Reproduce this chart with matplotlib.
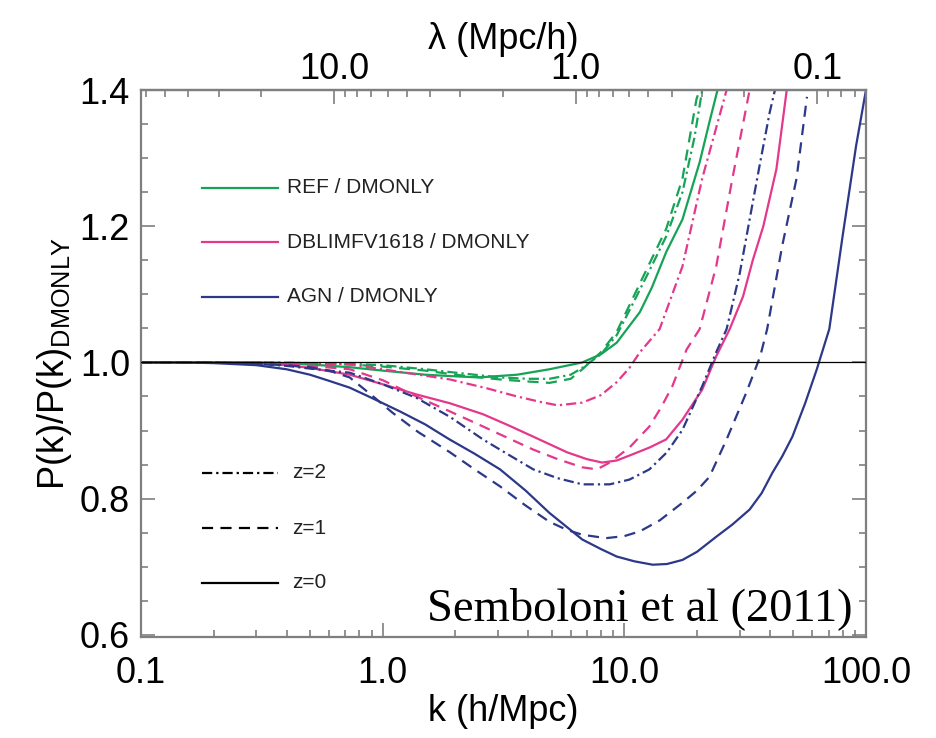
import numpy as np
import matplotlib
matplotlib.use("Agg")
import matplotlib.pyplot as plt
from matplotlib.ticker import FixedLocator, LogLocator, NullFormatter, FixedFormatter, MultipleLocator

plt.rcParams['font.family'] = ['Liberation Sans', 'DejaVu Sans']

# ---- data ----
agn_z0_k = [0.1, 0.15, 0.2, 0.3, 0.4, 0.5, 0.6, 0.73, 0.9, 1.18, 1.5, 1.89, 2.4, 3.06, 3.9, 4.9, 5.8, 6.7, 8.0,
            9.3, 11, 13.1, 15, 17.4, 20, 24, 28, 33, 37, 41, 45, 49.6, 56, 62.6, 70.5, 80, 91, 100]
agn_z0_v = [1.0, 1.0, 0.999, 0.996, 0.99, 0.982, 0.973, 0.963, 0.948, 0.928, 0.909, 0.887, 0.866, 0.843, 0.812,
            0.779, 0.758, 0.740, 0.726, 0.715, 0.708, 0.703, 0.704, 0.710, 0.722, 0.744, 0.762, 0.784, 0.808,
            0.838, 0.862, 0.891, 0.94, 0.99, 1.049, 1.185, 1.318, 1.40]

agn_z1_k = [0.1, 0.2, 0.3, 0.4, 0.5, 0.6, 0.73, 0.9, 1.1, 1.4, 1.9, 2.4, 3.06, 3.9, 4.9, 5.8, 6.7, 8.4, 10,
            11.6, 14, 17.4, 20, 22.5, 26.5, 32, 36.5, 39, 45, 51.6, 57]
agn_z1_v = [1.0, 1.0, 0.998, 0.996, 0.993, 0.988, 0.978, 0.952, 0.926, 0.898, 0.868, 0.843, 0.818, 0.79, 0.766,
            0.754, 0.747, 0.742, 0.745, 0.752, 0.768, 0.794, 0.812, 0.832, 0.887, 0.956, 1.009, 1.049, 1.171,
            1.27, 1.39]

agn_z2_k = [0.1, 0.2, 0.3, 0.4, 0.5, 0.6, 0.73, 1.0, 1.38, 1.9, 2.6, 3.3, 4.2, 5.3, 6.7, 8.7, 10.5, 12.7, 15,
            17.4, 21, 24, 26.5, 30, 33, 36.5, 40, 42]
agn_z2_v = [1.0, 1.0, 0.998, 0.995, 0.991, 0.988, 0.985, 0.968, 0.948, 0.92, 0.887, 0.865, 0.843, 0.83, 0.821,
            0.821, 0.828, 0.843, 0.868, 0.901, 0.965, 1.015, 1.049, 1.13, 1.21, 1.294, 1.368, 1.40]

dbl_z0_k = [0.1, 0.2, 0.3, 0.4, 0.5, 0.73, 1.0, 1.38, 1.9, 2.6, 3.3, 4.2, 5.8, 7, 8.1, 9.3, 10.8, 12.7, 14.9,
            17.4, 21, 24, 27.3, 31, 34, 37.6, 42.6, 47]
dbl_z0_v = [1.0, 1.0, 0.999, 0.996, 0.992, 0.982, 0.968, 0.953, 0.94, 0.924, 0.908, 0.891, 0.868, 0.858, 0.853,
            0.856, 0.865, 0.875, 0.887, 0.916, 0.96, 1.009, 1.049, 1.097, 1.15, 1.2, 1.284, 1.40]

dbl_z1_k = [0.1, 0.2, 0.3, 0.4, 0.5, 0.73, 1.0, 1.38, 1.9, 2.6, 3.3, 4.2, 5.3, 6.7, 7.7, 8.7, 10.5, 12.7, 14.2,
            15.8, 18.1, 20.5, 24, 28, 33]
dbl_z1_v = [1.0, 1.0, 0.999, 0.997, 0.995, 0.99, 0.974, 0.95, 0.928, 0.906, 0.889, 0.872, 0.858, 0.846, 0.843,
            0.853, 0.875, 0.906, 0.934, 0.965, 1.019, 1.049, 1.141, 1.27, 1.40]

dbl_z2_k = [0.1, 0.3, 0.5, 0.73, 1.0, 1.9, 2.7, 3.6, 4.5, 5.3, 6.7, 8.0, 9.3, 10.5, 11.6, 14, 17.4, 21, 26.5]
dbl_z2_v = [1.0, 1.0, 0.999, 0.997, 0.99, 0.975, 0.962, 0.95, 0.942, 0.937, 0.941, 0.952, 0.971, 0.992, 1.015,
            1.049, 1.141, 1.27, 1.40]

ref_z0_k = [0.1, 0.3, 0.5, 0.73, 1.0, 1.5, 1.9, 2.5, 3.6, 4.9, 6.7, 8.0, 9.3, 11.6, 13, 14.9, 17.4, 20.5, 22.5, 24.3]
ref_z0_v = [1.0, 1.0, 0.997, 0.993, 0.988, 0.982, 0.98, 0.978, 0.982, 0.99, 1.0, 1.012, 1.029, 1.074, 1.11, 1.162,
            1.21, 1.294, 1.353, 1.40]

ref_z1_k = [0.1, 0.3, 0.5, 0.73, 1.0, 1.5, 2.0, 3.06, 4.0, 4.9, 6.0, 6.7, 8.0, 9.3, 10.8, 12.5, 14.9, 17.4, 19.9, 20.5]
ref_z1_v = [1.0, 1.0, 0.999, 0.997, 0.994, 0.988, 0.982, 0.975, 0.972, 0.97, 0.976, 0.99, 1.015, 1.045, 1.093,
            1.14, 1.196, 1.27, 1.387, 1.40]

ref_z2_k = [0.1, 0.3, 0.5, 0.73, 1.0, 1.5, 2.0, 3.06, 4.0, 4.9, 6.0, 6.7, 8.0, 9.3, 10.8, 12.5, 14.9, 17.4, 19.5, 21]
ref_z2_v = [1.0, 1.0, 0.999, 0.998, 0.996, 0.99, 0.985, 0.978, 0.976, 0.976, 0.982, 0.992, 1.012, 1.04, 1.085,
            1.13, 1.185, 1.25, 1.33, 1.40]

model_labels = ['REF / DMONLY', 'DBLIMFV1618 / DMONLY', 'AGN / DMONLY']
z_labels = ['z=2', 'z=1', 'z=0']
x_ticks = [0.1, 1.0, 10.0, 100.0]
x_ticklabels = ['0.1', '1.0', '10.0', '100.0']
lam_ticks = [10.0, 1.0, 0.1]
lam_ticklabels = ['10.0', '1.0', '0.1']
y_ticks = [0.6, 0.8, 1.0, 1.2, 1.4]
y_ticklabels = ['0.6', '0.8', '1.0', '1.2', '1.4']

# ---- styles ----
GREEN = '#17a356'
PINK = '#e4388a'
BLUE = '#2c3888'
SPINE = '#7f7f7f'
LW = 1.6
DASH = (5.0, 3.3)
DASHDOT = (4.6, 1.8, 1.0, 1.8)

fig = plt.figure(figsize=(9.37, 7.38), dpi=100)
ax = fig.add_axes([0.1505, 0.137, 0.7737, 0.741])

series = [
    (ref_z2_k, ref_z2_v, GREEN, DASHDOT),
    (ref_z1_k, ref_z1_v, GREEN, DASH),
    (ref_z0_k, ref_z0_v, GREEN, None),
    (dbl_z2_k, dbl_z2_v, PINK, DASHDOT),
    (dbl_z1_k, dbl_z1_v, PINK, DASH),
    (dbl_z0_k, dbl_z0_v, PINK, None),
    (agn_z2_k, agn_z2_v, BLUE, DASHDOT),
    (agn_z1_k, agn_z1_v, BLUE, DASH),
    (agn_z0_k, agn_z0_v, BLUE, None),
]
for kk, vv, c, d in series:
    ln, = ax.plot(kk, vv, color=c, lw=LW)
    if d is not None:
        ln.set_dashes(d)

ax.axhline(1.0, color='black', lw=0.9, zorder=5)

ax.set_xscale('log')
ax.set_xlim(0.1, 100)
ax.set_ylim(0.597, 1.4)

ax.xaxis.set_major_locator(FixedLocator(x_ticks))
ax.xaxis.set_major_formatter(FixedFormatter(x_ticklabels))
ax.xaxis.set_minor_locator(LogLocator(base=10, subs=np.arange(2, 10)))
ax.xaxis.set_minor_formatter(NullFormatter())
ax.yaxis.set_major_locator(FixedLocator(y_ticks))
ax.yaxis.set_major_formatter(FixedFormatter(y_ticklabels))
ax.yaxis.set_minor_locator(MultipleLocator(0.05))

TICKFS = 26
ax.tick_params(which='both', direction='in', color=SPINE, width=1.2, top=False, right=True,
               labelsize=TICKFS)
ax.tick_params(which='major', length=10)
ax.tick_params(which='minor', length=5)
ax.tick_params(axis='x', which='major', pad=14)
ax.tick_params(axis='y', which='major', pad=8)
for s in ax.spines.values():
    s.set_color(SPINE)
    s.set_linewidth(1.6)

secax = ax.secondary_xaxis('top', functions=(lambda k: 2 * np.pi / k, lambda l: 2 * np.pi / l))
secax.xaxis.set_major_locator(FixedLocator(lam_ticks))
secax.xaxis.set_major_formatter(FixedFormatter(lam_ticklabels))
secax.xaxis.set_minor_locator(LogLocator(base=10, subs=np.arange(2, 10)))
secax.xaxis.set_minor_formatter(NullFormatter())
secax.tick_params(which='both', direction='in', color=SPINE, width=1.2, labelsize=TICKFS)
secax.tick_params(which='major', length=10, pad=2)
secax.tick_params(which='minor', length=5)
secax.spines['top'].set_color(SPINE)
secax.spines['top'].set_linewidth(1.6)
secax.set_xlabel('λ (Mpc/h)', fontsize=TICKFS, labelpad=2)

ax.set_xlabel('k (h/Mpc)', fontsize=TICKFS, labelpad=2)
ax.set_ylabel(r'P(k)/P(k)$_{\mathregular{DMONLY}}$', fontsize=TICKFS, labelpad=4)

# ---- legends drawn in axes coordinates ----
colors = [GREEN, PINK, BLUE]
rows1 = [0.821, 0.722, 0.622]
for lab, c, yy in zip(model_labels, colors, rows1):
    ax.plot([0.084, 0.189], [yy, yy], transform=ax.transAxes, color=c, lw=LW)
    ax.text(0.201, yy, lab, transform=ax.transAxes, fontsize=15, va='center', ha='left', color='#222222')

styles2 = [DASHDOT, DASH, None]
rows2 = [0.300, 0.199, 0.099]
for lab, d, yy in zip(z_labels, styles2, rows2):
    ln, = ax.plot([0.084, 0.189], [yy, yy], transform=ax.transAxes, color='black', lw=LW)
    if d is not None:
        ln.set_dashes(d)
    ax.text(0.208, yy, lab, transform=ax.transAxes, fontsize=15, va='center', ha='left', color='#222222')

ax.text(0.981, 0.031, 'Semboloni et al (2011)', transform=ax.transAxes, fontsize=33.5,
        ha='right', va='baseline', family=['Liberation Serif', 'DejaVu Serif'])

fig.savefig('out.png', dpi=100)
